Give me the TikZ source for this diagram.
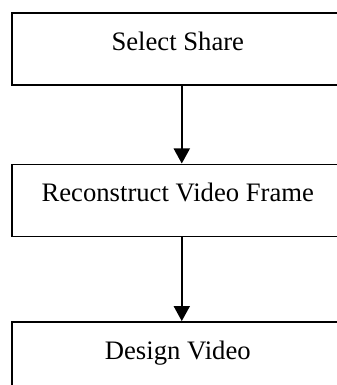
\documentclass[tikz,border=0pt]{standalone}
\usepackage{fontspec}
\setmainfont{Liberation Serif}
\usepackage{tikz}
\usetikzlibrary{arrows.meta, positioning}

\tikzset{
    stepbox/.style = {draw, line width=0.7pt, inner sep=0pt,
        minimum width=149.4pt, text height=16.9pt, text depth=15.5pt,
        font=\fontsize{12}{14}\selectfont},
    flow/.style = {-{Triangle[width=7.2pt,length=6.8pt]}, line width=0.9pt}
}

\begin{document}
\begin{tikzpicture}
        \useasboundingbox (0,0) rectangle (151.65pt,-173.25pt);
        \node (sel) [stepbox, anchor=north west] at (4.95pt,-5.4pt) {Select Share};
        \node (rec) [stepbox, below=35.1pt of sel] {Reconstruct Video Frame};
        \node (des) [stepbox, below=37.8pt of rec] {Design Video};

        \draw [flow] ([xshift=1.8pt]sel.south) -- ([xshift=1.8pt]rec.north);
        \draw [flow] ([xshift=1.8pt]rec.south) -- ([xshift=1.8pt]des.north);
    \end{tikzpicture}
\end{document}
